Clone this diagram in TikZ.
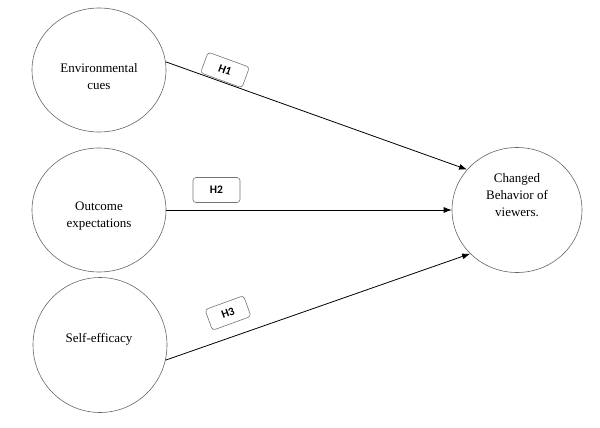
\documentclass[tikz,border=0pt]{standalone}
\usepackage{fontspec}
\setmainfont{Liberation Serif}
\newfontfamily\hfont{Carlito}
\usetikzlibrary{shapes.geometric,arrows.meta}
\begin{document}
\begin{tikzpicture}[x=1pt,y=-1pt,
  ell/.style={ellipse,draw=black!60,line width=0.6pt,inner sep=0pt,minimum width=134pt,minimum height=124pt},
  txt/.style={align=center,font=\fontsize{13}{17}\selectfont,inner sep=0pt},
  hbox/.style={draw=black!55,line width=0.6pt,rounded corners=3pt,minimum width=44pt,minimum height=22pt,inner sep=0pt,font=\hfont\bfseries\fontsize{11.5}{12}\selectfont},
  conn/.style={line width=0.8pt,-{Latex[length=8pt,width=6pt]}}]
\useasboundingbox (0,0) rectangle (600,428);
\node[ell] (env) at (99,70) {};
\node[ell] (out) at (99,210) {};
\node[ell,minimum height=135pt] (self) at (100,345) {};
\node[ell,minimum width=130pt,minimum height=125pt] (cb) at (517,210) {};
\node[txt] (envt) at (99,77) {Environmental\\cues};
\node[txt] (outt) at (99,216) {Outcome\\expectations};
\node[txt] (selft) at (99,339) {Self-efficacy};
\node[txt] (cbt) at (517,195) {Changed\\Behavior of\\viewers.};
\draw[conn] (env.7) -- (cb.141);
\draw[conn] (out.0) -- (cb.180);
\draw[conn] (self.-13) -- (cb.223);
\node[hbox,rotate=-20] (h1) at (225,70) {H1};
\node[hbox,minimum width=47pt,minimum height=25pt] (h2) at (216.5,190) {H2};
\node[hbox,rotate=20,minimum width=41pt] (h3) at (228,313) {H3};
\end{tikzpicture}
\end{document}
